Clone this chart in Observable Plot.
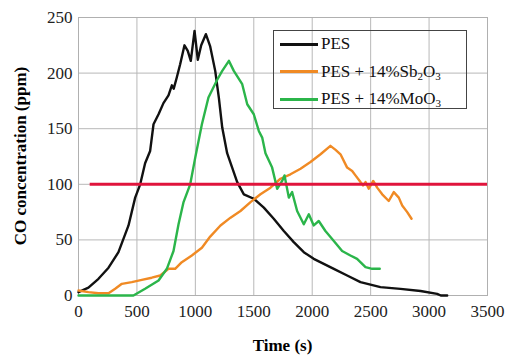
<!DOCTYPE html>
<html>
<head>
<meta charset="utf-8">
<script src="https://cdn.jsdelivr.net/npm/d3@7"></script>
<script src="https://cdn.jsdelivr.net/npm/@observablehq/plot@0.6"></script>
<style>
  body { margin: 0; background: #fff; }
  #wrap { position: relative; width: 514px; height: 356px; font-family: "Liberation Serif", "Times New Roman", serif; }
  #wrap svg, #wrap svg text { font-family: "Liberation Serif", "Times New Roman", serif !important; font-size: 17px !important; }
  #wrap svg text { fill: #222; }
  #legend { position: absolute; left: 273px; top: 30px; width: 194px; height: 79px; border: 1px solid #444; box-sizing: border-box; }
  .item { position: absolute; left: 6px; height: 20px; display: flex; align-items: center; font-size: 17px; color: #111; white-space: nowrap; }
  .swatch { width: 38px; height: 3px; margin-right: 3px; }
  sub { font-size: 11px; vertical-align: -3px; }
  #xlabel { position: absolute; left: 0; width: 565px; text-align: center; top: 336px; font-weight: bold; font-size: 17px; }
  #ylabel { position: absolute; left: 21px; top: 156px; transform: translate(-50%, -50%) rotate(-90deg); font-weight: bold; font-size: 17px; white-space: nowrap; }
</style>
</head>
<body>
<div id="wrap"></div>
<script>
// Series: time (s) and CO concentration (ppm)
const pesTime = [0, 85, 171, 257, 342, 428, 485, 528, 570, 613, 642, 685, 727, 770, 799, 815, 841, 870, 907, 935, 961, 993, 1021, 1050, 1090, 1127, 1170, 1201, 1230, 1272, 1315, 1358, 1415, 1500, 1586, 1671, 1757, 1842, 1928, 2013, 2099, 2185, 2299, 2413, 2584, 2755, 2927, 3069, 3100, 3155];
const pesCO   = [3, 7, 15, 25, 39, 63, 88, 100, 119, 130, 154, 163, 173, 180, 189, 186, 196, 208, 225, 220, 211, 238, 212, 225, 235, 224, 202, 178, 151, 128, 115, 102, 91, 87, 79, 69, 58, 48, 39, 33, 28.5, 24, 18, 12, 7.5, 6, 4, 1.5, 0, 0];

const sbTime = [0, 85, 171, 257, 314, 371, 456, 542, 627, 699, 770, 827, 884, 970, 1056, 1127, 1215, 1301, 1386, 1472, 1557, 1643, 1728, 1814, 1900, 1985, 2071, 2156, 2200, 2242, 2299, 2342, 2370, 2413, 2436, 2456, 2484, 2522, 2556, 2599, 2655, 2698, 2741, 2770, 2813, 2850];
const sbCO   = [4.5, 3, 2, 2, 6, 10.5, 12, 14, 16, 18, 24, 24, 30, 36, 43, 53, 63, 70, 76, 84, 91, 97, 105, 109, 114, 120, 127, 134.6, 131, 127, 115, 112, 108, 102, 99, 102, 96, 103, 97, 91, 85, 93, 88, 81, 75, 69];

const moTime = [0, 470, 570, 685, 756, 813, 856, 899, 956, 999, 1056, 1112, 1187, 1230, 1287, 1329, 1401, 1444, 1500, 1543, 1572, 1600, 1657, 1700, 1743, 1763, 1800, 1828, 1871, 1928, 1971, 2013, 2056, 2113, 2185, 2256, 2327, 2384, 2456, 2513, 2578];
const moCO   = [0, 0, 6, 13.5, 24, 40, 64, 84, 100, 124, 154, 178, 194, 202, 211, 202, 190, 172, 163, 148, 142, 128, 115, 96, 103, 108, 88, 93, 76, 64, 73, 63, 67, 58, 49, 40, 36, 33, 25.5, 24, 24];

const seriesNames = ["PES", "PES + 14%Sb2O3", "PES + 14%MoO3"];
const seriesColors = ["#111111", "#f08a24", "#2bb54a"];

// Reference (limit) line
const limitValue = 100, limitStart = 100, limitEnd = 3500;

// Axis ticks
const xTicks = [0, 500, 1000, 1500, 2000, 2500, 3000, 3500];
const yTicks = [0, 50, 100, 150, 200, 250];

const toRows = (ts, vs, s) => ts.map((t, i) => ({time: t, co: vs[i], series: s}));
const rows = [
  ...toRows(pesTime, pesCO, seriesNames[0]),
  ...toRows(sbTime, sbCO, seriesNames[1]),
  ...toRows(moTime, moCO, seriesNames[2])
];

const fmt = d3.format("d");

const chart = Plot.plot({
  width: 514,
  height: 356,
  marginLeft: 78,
  marginRight: 27,
  marginTop: 17,
  marginBottom: 61,
  style: "font-family: 'Liberation Serif', serif; font-size: 17px; background: #fff;",
  x: {domain: [0, 3500], ticks: xTicks, label: null},
  y: {domain: [0, 250], ticks: yTicks, label: null},
  color: {domain: seriesNames, range: seriesColors},
  marks: [
    Plot.gridX(xTicks, {stroke: "#b8b8b8", strokeOpacity: 1, strokeWidth: 1}),
    Plot.gridY(yTicks, {stroke: "#b8b8b8", strokeOpacity: 1, strokeWidth: 1}),
    Plot.frame({stroke: "#b0b0b0", strokeWidth: 1}),
    Plot.axisX(xTicks, {tickSize: 0, tickPadding: 9, label: null, tickFormat: fmt}),
    Plot.axisY(yTicks, {tickSize: 0, tickPadding: 6, label: null, tickFormat: fmt}),
    Plot.line(rows, {x: "time", y: "co", z: "series", stroke: "series", strokeWidth: 2.4, strokeLinejoin: "round"}),
    Plot.ruleY([{y: limitValue, x1: limitStart, x2: limitEnd}], {y: "y", x1: "x1", x2: "x2", stroke: "#e0143c", strokeWidth: 3})
  ]
});

const wrap = document.getElementById("wrap");
wrap.appendChild(chart);

const ylab = document.createElement("div");
ylab.id = "ylabel";
ylab.textContent = "CO concentration (ppm)";
wrap.appendChild(ylab);

const xlab = document.createElement("div");
xlab.id = "xlabel";
xlab.textContent = "Time (s)";
wrap.appendChild(xlab);

const legendLabels = ["PES", "PES + 14%Sb<sub>2</sub>O<sub>3</sub>", "PES + 14%MoO<sub>3</sub>"];
const legend = document.createElement("div");
legend.id = "legend";
legendLabels.forEach((lab, i) => {
  const it = document.createElement("div");
  it.className = "item";
  it.style.top = (3 + i * 27.5) + "px";
  it.innerHTML = `<span class="swatch" style="background:${seriesColors[i]}"></span><span>${lab}</span>`;
  legend.appendChild(it);
});
wrap.appendChild(legend);
</script>
</body>
</html>
